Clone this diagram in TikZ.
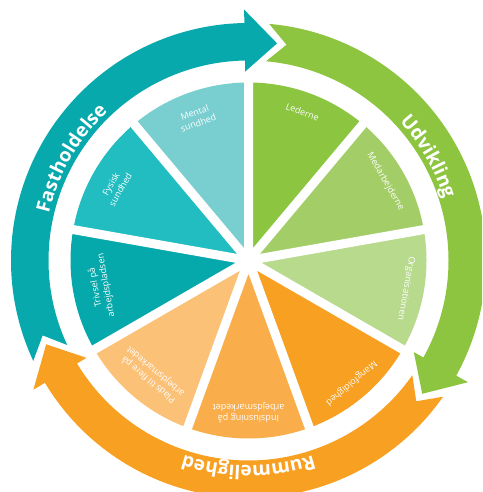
\documentclass[tikz,border=0pt]{standalone}
\usepackage{fontspec}
\setmainfont{Open Sans}
\usepackage[HTML]{xcolor}
\usepackage{tikz}
\usetikzlibrary{decorations.text}

% ring colours
\definecolor{ringteal}{HTML}{07A9AC}
\definecolor{ringgreen}{HTML}{8DC540}
\definecolor{ringorange}{HTML}{F7A021}
% sector colours
\definecolor{mentalcol}{HTML}{79CED0}
\definecolor{fysiskcol}{HTML}{21BDC1}
\definecolor{trivselcol}{HTML}{05A8AB}
\definecolor{ledernecol}{HTML}{8CC540}
\definecolor{medarbcol}{HTML}{A3CE67}
\definecolor{orgcol}{HTML}{B8DA8D}
\definecolor{mangfoldcol}{HTML}{F7A021}
\definecolor{indslcol}{HTML}{F9AE4B}
\definecolor{pladscol}{HTML}{FBC177}

\tikzset{
  gap/.style={white, line width=9pt},
  sector label/.style={text=white, align=center, font=\fontsize{9}{11}\selectfont},
  ring label/.style={decorate, decoration={text along path, text align=center,
      text color=white, text={|\fontsize{19}{19}\selectfont\bfseries|#1}}}
}

\begin{document}
\begin{tikzpicture}[x=1pt, y=1pt]
\clip (0,0) rectangle (482,492);
\begin{scope}[shift={(248.5,231.5)}]

% Outer ring: three arrows running clockwise
\fill[ringteal] (205:237.5pt) arc[start angle=205, end angle=91, radius=237.5pt]
  -- (91:251pt) -- (82.5:219pt) -- (91:189pt) -- (91:200pt)
  arc[start angle=91, end angle=205, radius=200pt] -- (200:219pt) -- cycle;
\fill[ringgreen] (85:237.5pt) arc[start angle=85, end angle=-29, radius=237.5pt]
  -- (-29:251pt) -- (-37.5:219pt) -- (-29:189pt) -- (-29:200pt)
  arc[start angle=-29, end angle=85, radius=200pt] -- (80:219pt) -- cycle;
\fill[ringorange] (-35:237.5pt) arc[start angle=-35, end angle=-149, radius=237.5pt]
  -- (-149:251pt) -- (-157.5:219pt) -- (-149:189pt) -- (-149:200pt)
  arc[start angle=-149, end angle=-35, radius=200pt] -- (-40:219pt) -- cycle;

% Ring titles
\path[ring label=Fastholdelse] (200:205pt) arc[start angle=200, end angle=100, radius=205pt];
\path[ring label=Udvikling] (80:205pt) arc[start angle=80, end angle=-20, radius=205pt];
\path[ring label=Rummelighed] (-40:205pt) arc[start angle=-40, end angle=-140, radius=205pt];

% Wheel sectors, 40 degrees each
\fill[mentalcol] (0,0) -- (90:178pt) arc[start angle=90, end angle=130, radius=178pt] -- cycle;
\fill[fysiskcol] (0,0) -- (130:178pt) arc[start angle=130, end angle=170, radius=178pt] -- cycle;
\fill[trivselcol] (0,0) -- (170:178pt) arc[start angle=170, end angle=210, radius=178pt] -- cycle;
\fill[pladscol] (0,0) -- (210:178pt) arc[start angle=210, end angle=250, radius=178pt] -- cycle;
\fill[indslcol] (0,0) -- (250:178pt) arc[start angle=250, end angle=290, radius=178pt] -- cycle;
\fill[mangfoldcol] (0,0) -- (-70:178pt) arc[start angle=-70, end angle=-30, radius=178pt] -- cycle;
\fill[orgcol] (0,0) -- (-30:178pt) arc[start angle=-30, end angle=10, radius=178pt] -- cycle;
\fill[medarbcol] (0,0) -- (10:178pt) arc[start angle=10, end angle=50, radius=178pt] -- cycle;
\fill[ledernecol] (0,0) -- (50:178pt) arc[start angle=50, end angle=90, radius=178pt] -- cycle;

% White spokes between the sectors
\draw[gap] (0,0) -- (90:182pt) (0,0) -- (130:182pt) (0,0) -- (170:182pt)
  (0,0) -- (210:182pt) (0,0) -- (250:182pt) (0,0) -- (290:182pt)
  (0,0) -- (330:182pt) (0,0) -- (10:182pt) (0,0) -- (50:182pt);

% Sector labels
\node[sector label, rotate=20] (mental) at (110:152pt) {Mental\\sundhed};
\node[sector label, rotate=60] (fysisk) at (151:152pt) {Fysisk\\sundhed};
\node[sector label, rotate=100] (trivsel) at (190:150pt) {Trivsel på\\arbejdspladsen};
\node[sector label, rotate=140] (plads) at (230:150pt) {Plads til flere på\\arbejdsmarkedet};
\node[sector label, rotate=180] (indsl) at (270:152pt) {Indslusning på\\arbejdsmarkedet};
\node[sector label, rotate=-140] (mangfold) at (-50:160pt) {Mangfoldighed};
\node[sector label, rotate=-100] (org) at (-10:160pt) {Organisationen};
\node[sector label, rotate=-60] (medarb) at (30:158pt) {Medarbejderne};
\node[sector label, rotate=-20] (lederne) at (70:158pt) {Lederne};

\end{scope}
\end{tikzpicture}
\end{document}
